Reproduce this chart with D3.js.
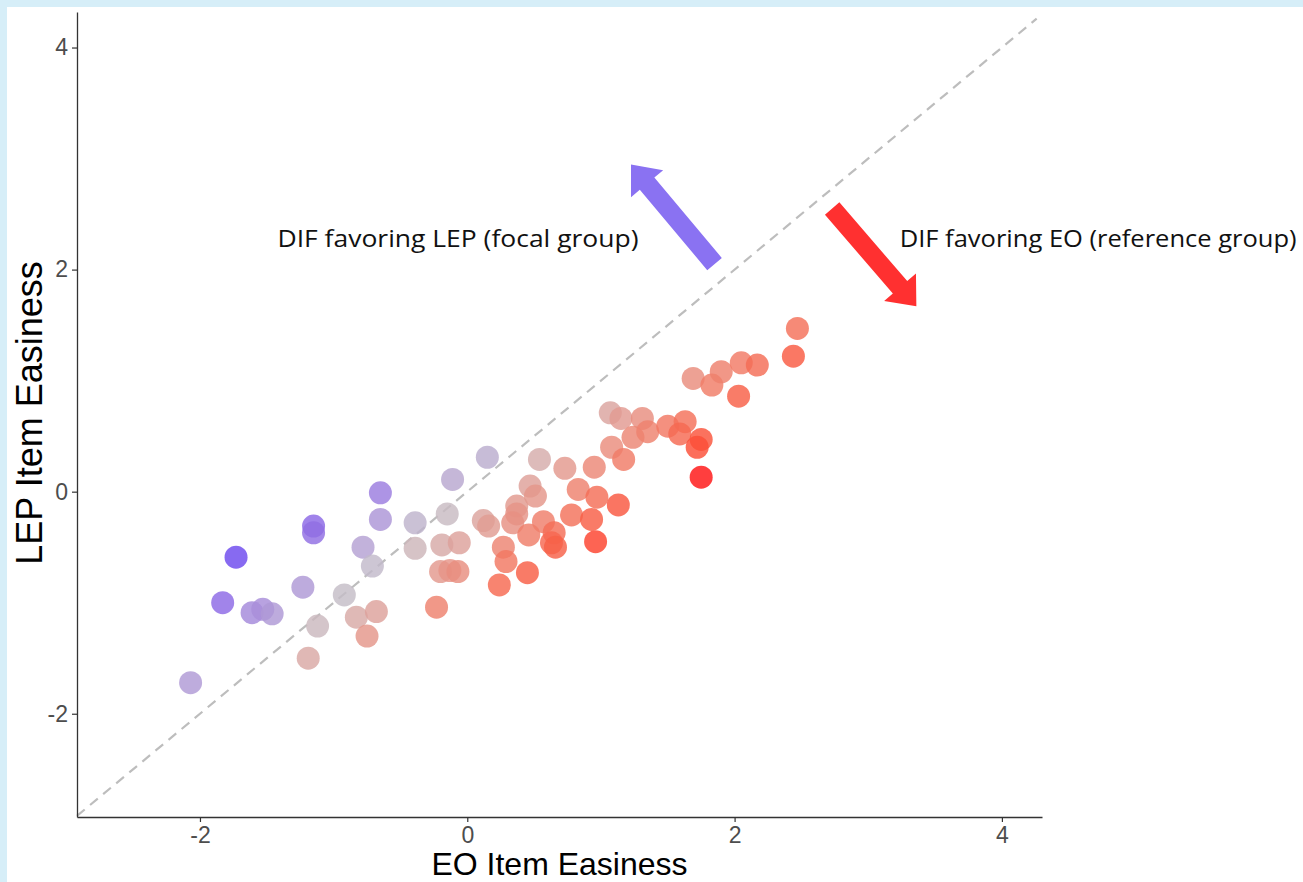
<html>
<head>
	<meta charset="utf-8">
	<title>DIF scatter</title>
	<script src="https://d3js.org/d3.v7.min.js"></script>
	<style type="text/css">
		body {
			margin: 0;
			padding: 0;
			background: #d6eef8;
			overflow: hidden;
		}
		#chart {
			position: absolute;
			left: 7px;
			top: 7px;
			width: 1296px;
			height: 875px;
			background: #fff;
		}
		svg { position: absolute; left: -7px; top: -7px; }
	</style>
</head>
<body>

<div id="chart"></div>

<script>

// EO and LEP item easiness, one entry per item
var eo = [-2.07, -1.73, -1.83, -1.61, -1.53, -1.46, -1.15, -1.15, -1.23, -0.65,
	-0.65, -0.78, -0.71, -0.92, -1.12, -1.19, -0.83, -0.68, -0.75, -0.39,
	-0.39, -0.15, -0.11, 0.15, -0.19, -0.06, -0.20, -0.13, -0.07, -0.23,
	0.12, 0.16, 0.54, 0.73, 0.95, 0.47, 0.51, 0.37, 0.37, 0.34,
	0.57, 0.46, 0.65, 0.63, 0.66, 0.27, 0.29, 0.24, 0.45, 0.83,
	0.97, 0.78, 0.93, 1.13, 0.96, 1.07, 1.15, 1.31, 1.08, 1.17,
	1.24, 1.35, 1.50, 1.63, 1.59, 1.75, 1.72, 1.75, 1.69, 1.83,
	1.90, 2.05, 2.17, 2.03, 2.47, 2.44];
var lep = [-1.72, -0.59, -1.00, -1.09, -1.06, -1.10, -0.31, -0.37, -0.86, -0.01,
	-0.25, -0.50, -0.67, -0.93, -1.21, -1.50, -1.13, -1.08, -1.30, -0.28,
	-0.51, -0.20, 0.11, 0.31, -0.48, -0.46, -0.72, -0.71, -0.72, -1.04,
	-0.26, -0.31, 0.29, 0.21, 0.22, 0.05, -0.04, -0.13, -0.20, -0.28,
	-0.27, -0.39, -0.37, -0.46, -0.50, -0.50, -0.63, -0.84, -0.73, 0.02,
	-0.05, -0.21, -0.25, -0.12, -0.45, 0.71, 0.66, 0.66, 0.40, 0.29,
	0.49, 0.54, 0.59, 0.63, 0.52, 0.47, 0.40, 0.13, 1.02, 0.96,
	1.08, 1.16, 1.14, 0.86, 1.47, 1.22];

var xTicks = [-2, 0, 2, 4],
	yTicks = [-2, 0, 2, 4];

var xTitle = "EO Item Easiness",
	yTitle = "LEP Item Easiness";

// annotations: text anchor + arrow tail / tip in data units
var labelLep = "DIF favoring LEP (focal group)",
	labelEo = "DIF favoring EO (reference group)";
var arrowLep = [[1.85, 2.05], [1.225, 2.946]],
	arrowEo = [[2.73, 2.55], [3.36, 1.67]];

var ww = 1303,
	wh = 882;

var x = d3.scaleLinear().domain([-2.92, 4.30]).range([77, 1042]);
var y = d3.scaleLinear().domain([-2.93, 4.32]).range([817, 12]);

// colour by EO - LEP, purple above the line, red below
var color = d3.scaleLinear()
	.domain([-1.15, 0, 1.62])
	.range(["#6c48ee", "#c4bec8", "#ff1414"])
	.interpolate(d3.interpolateLab)
	.clamp(true);

var svg = d3.select("#chart").append("svg")
	.attr("width", ww)
	.attr("height", wh);

// identity line
svg.append("line")
	.attr("x1", x(-2.92)).attr("y1", y(-2.92))
	.attr("x2", x(4.26)).attr("y2", y(4.26))
	.attr("stroke", "#bdbdbd")
	.attr("stroke-width", 2.2)
	.attr("stroke-dasharray", "10,7");

var pts = eo.map(function(d, i) { return {x: d, y: lep[i]}; });

svg.append("g").selectAll("circle")
	.data(pts)
	.enter().append("circle")
	.attr("cx", function(d) { return x(d.x); })
	.attr("cy", function(d) { return y(d.y); })
	.attr("r", 11.5)
	.attr("fill", function(d) { return color(d.x - d.y); })
	.attr("fill-opacity", 0.82);

// axes (plain hyphen for negatives, like the original)
var fmt = function(d) { return String(d); };
var xAxis = svg.append("g")
	.attr("transform", "translate(0,817)")
	.call(d3.axisBottom(x).tickValues(xTicks).tickFormat(fmt).tickSize(5).tickPadding(5).tickSizeOuter(0));
var yAxis = svg.append("g")
	.attr("transform", "translate(77,0)")
	.call(d3.axisLeft(y).tickValues(yTicks).tickFormat(fmt).tickSize(5).tickPadding(4).tickSizeOuter(0));

[xAxis, yAxis].forEach(function(a) {
	a.select(".domain").attr("stroke", "#333").attr("stroke-width", 1.3);
	a.selectAll(".tick line").attr("stroke", "#333").attr("stroke-width", 1.2);
	a.selectAll(".tick text")
		.attr("fill", "#4d4d4d")
		.attr("font-family", "Liberation Sans, Arial, sans-serif")
		.attr("font-size", 23);
});

svg.append("text")
	.attr("x", (77 + 1042) / 2)
	.attr("y", 875)
	.attr("text-anchor", "middle")
	.style("font-family", "Liberation Sans, Arial, sans-serif")
	.style("font-size", "32px")
	.text(xTitle);

svg.append("text")
	.attr("transform", "translate(42," + 413 + ") rotate(-90)")
	.attr("text-anchor", "middle")
	.style("font-family", "Liberation Sans, Arial, sans-serif")
	.style("font-size", "36px")
	.text(yTitle);

// annotation text
svg.append("text")
	.attr("x", x(-1.42)).attr("y", 247)
	.attr("textLength", 361)
	.attr("lengthAdjust", "spacingAndGlyphs")
	.style("font-family", "Open Sans, sans-serif")
	.style("font-size", "24px")
	.attr("fill", "#111")
	.text(labelLep);
svg.append("text")
	.attr("x", x(3.235)).attr("y", 247)
	.attr("textLength", 397)
	.attr("lengthAdjust", "spacingAndGlyphs")
	.style("font-family", "Open Sans, sans-serif")
	.style("font-size", "24px")
	.attr("fill", "#111")
	.text(labelEo);

function arrowPath(a) {
	var t = [x(a[0][0]), y(a[0][1])],
		p = [x(a[1][0]), y(a[1][1])];
	var dx = p[0] - t[0], dy = p[1] - t[1], len = Math.sqrt(dx * dx + dy * dy);
	var u = [dx / len, dy / len], n = [-u[1], u[0]];
	var w = 9.5, hw = 21, hl = 25;
	var b = [p[0] - u[0] * hl, p[1] - u[1] * hl];
	var pts = [
		[t[0] + n[0] * w, t[1] + n[1] * w],
		[b[0] + n[0] * w, b[1] + n[1] * w],
		[b[0] + n[0] * hw, b[1] + n[1] * hw],
		p,
		[b[0] - n[0] * hw, b[1] - n[1] * hw],
		[b[0] - n[0] * w, b[1] - n[1] * w],
		[t[0] - n[0] * w, t[1] - n[1] * w]
	];
	return "M" + pts.map(function(q) { return q.join(","); }).join("L") + "Z";
}

svg.append("path").attr("d", arrowPath(arrowLep)).attr("fill", "#8a72f2");
svg.append("path").attr("d", arrowPath(arrowEo)).attr("fill", "#ff3030");

</script>
</body>
</html>
